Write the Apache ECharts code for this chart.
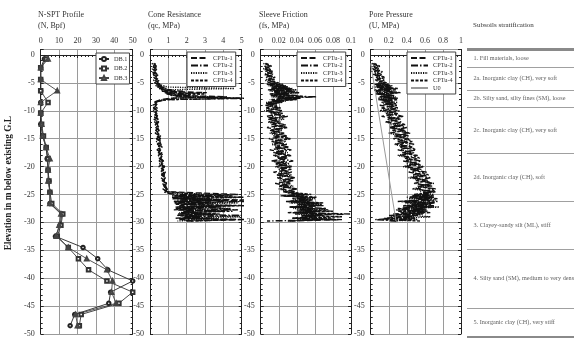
<!DOCTYPE html>
<html><head><meta charset="utf-8">
<script src="https://cdn.jsdelivr.net/npm/echarts/dist/echarts.min.js"></script>
<style>html,body{margin:0;padding:0;background:#fff}#c{width:574px;height:338px}</style>
</head><body><div id="c"></div>
<script>
// ---------- N-SPT profile ----------
const sptDepth = [-0.7,-2.3,-4.4,-6.4,-8.5,-10.4,-12.4,-14.5,-16.6,-18.6,-20.6,-22.6,-24.6,-26.6,-28.5,-30.5,-32.5,-34.5,-36.5,-38.5,-40.5,-42.5,-44.5,-46.5,-48.5];
const db1 = [2,0,0,0,0,0,0,1,3,3.5,4,4.5,5,5,11.5,10.5,8,23,31,36.5,50,38,37,18.5,16];
const db2 = [3,0,0,0,4,0,0.5,1.5,3,4,4,4.5,5,6,12,11,9,15,20.5,26,36,50,42.5,22,21];
const db3 = [4,0,0,9,0,0,0.5,1,3,5,4,4,5,5,11,10,8.5,15,25,36,39,38.5,41,19,20];

// ---------- CPTu profiles (shared depth sampling) ----------
const cptDepth = [
 -1.5,-2,-2.5,-3,-3.5,-4,-4.5,
 -5,-5.25,-5.5,-5.75,-6,-6.25,-6.5,-6.75,-7,-7.25,-7.5,-7.75,-8,-8.25,-8.5,-8.75,
 -9,-9.5,-10,-10.5,-11,-11.5,-12,-12.5,-13,-13.5,-14,-14.5,-15,-15.5,-16,-16.5,
 -17,-17.5,-18,-18.5,-19,-19.5,-20,-20.5,-21,-21.5,-22,-22.5,-23,-23.5,-24,-24.5,
 -24.75,-25,-25.25,-25.5,-25.75,-26,-26.25,-26.5,-26.75,-27,-27.25,-27.5,-27.75,-28,-28.25,-28.5,-28.75,-29,-29.25,-29.5,-29.75
];
// cone resistance qc (MPa)
const qc1 = [
 null,0.15,0.3,0.12,0.35,0.2,0.4,
 0.25,0.5,0.3,0.8,0.45,1.2,0.6,3.1,0.9,1.5,4.2,1.1,0.6,0.4,0.2,0.35,
 0.15,0.4,0.2,0.38,0.18,0.45,0.25,0.42,0.3,0.5,0.28,0.55,0.35,0.52,0.4,0.6,
 0.38,0.65,0.45,0.62,0.5,0.7,0.48,0.75,0.55,0.8,0.6,0.78,0.65,0.88,0.7,0.92,
 1.0,4.8,1.3,2.5,1.2,5.3,1.5,3.6,1.4,4.6,1.6,2.8,1.3,4.1,1.7,3.2,1.5,2.6,1.4,5.2,2.0];
const qc2 = [
 0.2,0.35,0.15,0.3,0.18,0.4,0.25,
 0.45,0.3,0.6,0.4,0.9,0.55,1.8,0.8,1.2,2.2,1.4,5.4,1.0,0.5,0.3,0.2,
 0.35,0.18,0.42,0.22,0.4,0.2,0.48,0.28,0.52,0.3,0.5,0.36,0.58,0.34,0.62,0.42,
 0.6,0.45,0.68,0.5,0.72,0.52,0.78,0.58,0.8,0.62,0.85,0.66,0.9,0.7,0.95,0.75,
 0.9,1.4,4.5,1.2,3.3,1.5,5.2,1.3,2.2,1.6,3.9,1.4,4.8,1.8,2.7,1.5,5.0,1.9,3.5,1.6,2.4];
const qc3 = [
 0.1,0.25,0.12,0.3,0.15,0.35,0.2,
 0.3,0.45,0.35,1.0,4.6,0.9,1.4,0.8,2.0,1.1,3.4,1.3,0.7,0.45,0.25,0.3,
 0.25,0.32,0.15,0.35,0.28,0.22,0.4,0.3,0.45,0.35,0.42,0.5,0.38,0.55,0.45,0.5,
 0.58,0.48,0.62,0.55,0.66,0.6,0.7,0.62,0.74,0.68,0.8,0.72,0.84,0.76,0.88,0.8,
 1.1,3.9,1.4,5.1,1.6,2.9,1.3,4.8,1.8,3.4,1.5,4.4,1.9,2.5,1.6,3.8,2.1,4.9,1.7,3.0,1.5];
const qc4 = [
 0.3,0.18,0.4,0.22,0.45,0.28,0.5,
 0.35,0.6,0.45,0.7,0.5,0.9,0.65,1.6,3.0,1.3,1.8,4.9,0.9,0.5,0.3,0.42,
 0.3,0.22,0.36,0.26,0.44,0.32,0.38,0.46,0.34,0.48,0.42,0.58,0.44,0.6,0.5,0.66,
 0.52,0.58,0.7,0.56,0.74,0.62,0.8,0.66,0.84,0.7,0.82,0.76,0.9,0.8,0.96,0.85,
 0.95,2.7,1.2,5.0,1.5,4.1,1.3,3.0,1.7,5.2,1.4,2.4,1.6,4.5,1.9,3.6,1.5,2.8,1.8,4.7,2.2];
// sleeve friction fs (MPa)
const fs1 = [
 null,0.004,0.012,0.005,0.014,0.006,0.016,
 0.008,0.022,0.01,0.03,0.012,0.035,0.015,0.028,0.01,0.04,0.018,0.045,0.012,0.025,0.008,0.018,
 0.005,0.02,0.008,0.025,0.006,0.018,0.01,0.028,0.007,0.022,0.012,0.03,0.009,0.024,0.014,0.032,
 0.01,0.026,0.015,0.03,0.012,0.028,0.018,0.034,0.014,0.03,0.02,0.036,0.016,0.032,0.022,0.038,
 0.03,0.045,0.022,0.05,0.035,0.055,0.028,0.06,0.04,0.07,0.032,0.055,0.04,0.065,0.03,0.08,0.045,0.06,0.035,0.09,0.03];
const fs2 = [
 0.005,0.01,0.004,0.012,0.006,0.015,0.008,
 0.018,0.006,0.026,0.012,0.032,0.008,0.038,0.015,0.03,0.01,0.062,0.02,0.036,0.012,0.022,0.006,
 0.018,0.006,0.024,0.01,0.03,0.008,0.022,0.012,0.028,0.01,0.026,0.014,0.032,0.012,0.029,0.016,
 0.034,0.014,0.03,0.018,0.036,0.016,0.032,0.02,0.035,0.018,0.038,0.022,0.034,0.02,0.04,0.025,
 0.035,0.05,0.025,0.058,0.04,0.048,0.03,0.066,0.042,0.052,0.032,0.073,0.045,0.058,0.04,0.099,0.048,0.062,0.035,0.084,0.007];
const fs3 = [
 0.003,0.008,0.003,0.01,0.004,0.012,0.005,
 0.01,0.025,0.008,0.03,0.012,0.04,0.01,0.043,0.015,0.035,0.012,0.04,0.01,0.028,0.006,0.015,
 0.01,0.015,0.004,0.02,0.012,0.026,0.008,0.018,0.014,0.024,0.01,0.02,0.016,0.028,0.012,0.022,
 0.018,0.03,0.014,0.024,0.02,0.032,0.016,0.026,0.022,0.034,0.018,0.028,0.024,0.036,0.02,0.03,
 0.038,0.052,0.03,0.047,0.06,0.036,0.055,0.032,0.068,0.04,0.058,0.036,0.075,0.042,0.06,0.038,0.07,0.045,0.078,0.04,0.04];
const fs4 = [
 0.006,0.012,0.005,0.014,0.007,0.016,0.008,
 0.02,0.01,0.028,0.014,0.035,0.01,0.03,0.042,0.012,0.033,0.05,0.018,0.04,0.012,0.024,0.008,
 0.012,0.022,0.007,0.016,0.026,0.009,0.02,0.014,0.03,0.011,0.024,0.017,0.033,0.013,0.026,0.019,
 0.028,0.015,0.034,0.021,0.027,0.017,0.035,0.023,0.03,0.019,0.037,0.025,0.032,0.021,0.04,0.027,
 0.042,0.056,0.036,0.062,0.045,0.058,0.034,0.07,0.048,0.064,0.038,0.06,0.045,0.08,0.04,0.066,0.048,0.09,0.042,0.062,0.03];
// pore pressure u (MPa)
const u1 = [
 null,0.03,0.1,0.04,0.12,0.06,0.15,
 0.08,0.2,0.05,0.24,0.1,0.28,0.04,0.18,0.06,0.26,0.1,0.3,0.08,0.22,0.12,0.28,
 0.1,0.28,0.14,0.3,0.12,0.33,0.18,0.36,0.2,0.38,0.22,0.42,0.25,0.4,0.28,0.46,
 0.3,0.48,0.33,0.5,0.36,0.54,0.38,0.56,0.42,0.6,0.45,0.64,0.48,0.68,0.5,0.7,
 0.58,0.65,0.45,0.7,0.5,0.62,0.35,0.72,0.55,0.4,0.68,0.3,0.6,0.45,0.66,0.25,0.5,0.38,0.15,0.45,0.2];
const u2 = [
 0.02,0.08,0.02,0.1,0.04,0.14,0.06,
 0.16,0.04,0.2,0.08,0.25,0.03,0.15,0.3,0.08,0.22,0.1,0.28,0.12,0.2,0.26,0.14,
 0.3,0.12,0.32,0.16,0.36,0.18,0.34,0.22,0.4,0.24,0.44,0.26,0.42,0.3,0.48,0.32,
 0.5,0.35,0.52,0.38,0.56,0.4,0.58,0.44,0.62,0.46,0.66,0.5,0.7,0.52,0.72,0.55,
 0.62,0.48,0.68,0.4,0.74,0.52,0.3,0.66,0.45,0.7,0.35,0.6,0.28,0.64,0.42,0.55,0.2,0.48,0.32,0.05,0.3];
const u3 = [
 0.01,0.05,0.02,0.08,0.03,0.1,0.05,
 0.12,0.06,0.18,0.02,0.22,0.1,0.26,0.06,0.2,0.12,0.28,0.08,0.24,0.14,0.3,0.16,
 0.2,0.24,0.1,0.28,0.2,0.32,0.16,0.3,0.26,0.36,0.2,0.34,0.3,0.4,0.26,0.38,
 0.34,0.45,0.3,0.44,0.4,0.5,0.36,0.52,0.46,0.55,0.42,0.6,0.5,0.62,0.46,0.66,
 0.6,0.7,0.5,0.64,0.42,0.72,0.55,0.38,0.67,0.48,0.76,0.4,0.62,0.5,0.33,0.58,0.44,0.66,0.36,0.52,0.25];
const u4 = [
 0.04,0.1,0.05,0.13,0.06,0.16,0.08,
 0.18,0.1,0.24,0.06,0.3,0.12,0.2,0.33,0.08,0.26,0.14,0.22,0.3,0.16,0.25,0.18,
 0.16,0.3,0.2,0.26,0.34,0.22,0.3,0.38,0.24,0.36,0.42,0.28,0.4,0.46,0.32,0.44,
 0.5,0.36,0.48,0.54,0.4,0.52,0.58,0.46,0.56,0.64,0.5,0.6,0.68,0.54,0.66,0.72,
 0.62,0.52,0.7,0.46,0.66,0.58,0.74,0.44,0.63,0.36,0.7,0.5,0.58,0.3,0.6,0.4,0.52,0.22,0.5,0.13,0.55];
// hydrostatic pore pressure U0
const u0Depth = [-1.5, -29.75];
const u0 = [0, 0.28];

// ---------- stratification ----------
const layerBounds = [1,-2.1,-6.2,-9.2,-17.4,-26,-34.4,-44.9,-50];
const layerNames = [
 '1. Fill materials, loose',
 '2a. Inorganic clay (CH), very soft',
 '2b. Silty sand, silty fines (SM), loose',
 '2c. Inorganic clay (CH), very soft',
 '2d. Inorganic clay (CH), soft',
 '3. Clayey-sandy silt (ML), stiff',
 '4. Silty sand (SM), medium to very dense',
 '5. Inorganic clay (CH), very stiff'
];
const panelTitles = ['N-SPT Profile\n(N, Bpf)','Cone Resistance\n(qc, MPa)','Sleeve Friction\n(fs, MPa)','Pore Pressure\n(U, MPa)'];
const xMaxes = [50, 5, 0.1, 1];
const xIntervals = [10, 1, 0.02, 0.2];
const cptNames = ['CPTu-1','CPTu-2','CPTu-3','CPTu-4'];
const yMin = -50, yMax = 1, yInterval = 5;

// ---------- build ----------
const FONT = 'Liberation Serif';
const gridTop = 49.4, gridH = 287.6;
const grids = [
 {left:40.7, top:gridTop, width:92, height:gridH},
 {left:150, top:gridTop, width:91.7, height:gridH},
 {left:260.7, top:gridTop, width:90.3, height:gridH},
 {left:370.7, top:gridTop, width:90.3, height:gridH},
 {left:467, top:gridTop, width:107, height:gridH}
];
const axisCol = '#222', gridCol = '#9a9a9a';
const xAxes = [], yAxes = [];
for (let i = 0; i < 4; i++) {
  xAxes.push({gridIndex:i, type:'value', position:'top', min:0, max:xMaxes[i], interval:xIntervals[i],
    axisLine:{show:true, lineStyle:{color:axisCol, width:1.2}},
    axisTick:{show:true, inside:true, length:3, lineStyle:{color:axisCol}},
    minorTick:{show:true, splitNumber:5, length:2, lineStyle:{color:axisCol}},
    splitLine:{show:true, lineStyle:{color:gridCol, width:1}},
    axisLabel:{fontFamily:FONT, fontSize:8, color:'#333', margin:4}});
}
xAxes.push({gridIndex:4, type:'value', min:0, max:1, show:false});
for (let i = 0; i < 4; i++) {
  yAxes.push({gridIndex:i, type:'value', min:yMin, max:yMax, interval:yInterval,
    name: i === 0 ? 'Elevation in m below existing G.L' : '',
    nameLocation:'middle', nameGap:28,
    nameTextStyle:{fontFamily:FONT, fontSize:9.3, fontWeight:'bold', color:'#222', padding:[0,0,0,17]},
    axisLine:{show:true, onZero:false, lineStyle:{color:axisCol, width:1}},
    axisTick:{show:true, inside:true, length:3, lineStyle:{color:axisCol}},
    minorTick:{show:true, splitNumber:5, length:2, lineStyle:{color:axisCol}},
    splitLine:{show:true, lineStyle:{color:gridCol, width:1}},
    axisLabel:{fontFamily:FONT, fontSize:8, color:'#333', margin:6, showMaxLabel:false}});
}
for (let i = 0; i < 4; i++) {
  yAxes.push({gridIndex:i, type:'value', position:'right', min:yMin, max:yMax, interval:yInterval,
    axisLine:{show:true, onZero:false, lineStyle:{color:axisCol, width:1}},
    axisTick:{show:true, inside:true, length:3, lineStyle:{color:axisCol}},
    minorTick:{show:true, splitNumber:5, length:2, lineStyle:{color:axisCol}},
    splitLine:{show:false}, axisLabel:{show:false}});
}
yAxes.push({gridIndex:4, type:'value', min:yMin, max:yMax, show:false});
const TABLE_Y = yAxes.length - 1;

function pairs(xs, ys) {
  const out = [];
  xs.forEach((v, k) => { if (v != null) out.push([v, ys[k]]); });
  return out;
}
const series = [];
const sptSets = [[db1,'DB.1','emptyCircle','#222'],[db2,'DB.2','emptyRect','#333'],[db3,'DB.3','emptyTriangle','#444']];
sptSets.forEach(s => series.push({type:'line', name:s[1], xAxisIndex:0, yAxisIndex:0,
  data:pairs(s[0], sptDepth), symbol:s[2], symbolSize:3.5, showSymbol:true,
  lineStyle:{color:s[3], width:0.9}, itemStyle:{color:s[3], borderColor:s[3], borderWidth:0.9}, z:3}));

const cptStyles = [[6,2.5],[7,2,1.5,2],[1.2,1.2],[3,1.5]];
const cptSets = [[qc1,qc2,qc3,qc4],[fs1,fs2,fs3,fs4],[u1,u2,u3,u4]];
cptSets.forEach((set, p) => {
  set.forEach((vals, k) => series.push({type:'line', name:cptNames[k], xAxisIndex:p+1, yAxisIndex:p+1,
    data:pairs(vals, cptDepth), symbol:'none', clip:true,
    lineStyle:{color:'#111', width:1.4, type:cptStyles[k]}, itemStyle:{color:'rgba(0,0,0,0)'}}));
});
series.push({type:'line', name:'U0', xAxisIndex:3, yAxisIndex:3, data:pairs(u0, u0Depth), symbol:'none',
  lineStyle:{color:'#999', width:1}, itemStyle:{color:'rgba(0,0,0,0)'}});

// stratification table
const last = layerBounds.length - 1;
series.push({type:'scatter', xAxisIndex:4, yAxisIndex:TABLE_Y, symbolSize:1, itemStyle:{color:'rgba(0,0,0,0)'},
  silent:true, clip:false,
  data: layerNames.map((n, i) => ({name:n, value:[0, (layerBounds[i] + layerBounds[i+1]) / 2]})),
  label:{show:true, position:'right', distance:6, formatter:'{b}', fontFamily:FONT, fontSize:6.2, color:'#333'},
  markLine:{silent:true, symbol:'none', label:{show:false}, animation:false,
    data: layerBounds.map((b, i) => ({yAxis:b, lineStyle:{type:'solid',
      color:(i === 0 || i === last) ? '#8a8a8a' : '#a0a0a0', width:(i === 0 || i === last) ? 3 : 1.2}}))}
});

const titleStyle = {fontFamily:FONT, fontSize:8, fontWeight:'normal', color:'#333', lineHeight:10.5};
const titleLefts = [38, 148, 259, 369];
const titles = panelTitles.map((t, i) => ({text:t, left:titleLefts[i], top:10, padding:0, textStyle:titleStyle}));
titles.push({text:'Subsoils stratification', left:473, top:22, padding:0,
  textStyle:{fontFamily:FONT, fontSize:7, fontWeight:'normal', color:'#333'}});

const legendBase = {orient:'vertical', selectedMode:false, itemWidth:17, itemHeight:5, itemGap:1.5,
  padding:[3,3,3,3], borderColor:'#444', borderWidth:1, backgroundColor:'#fff',
  textStyle:{fontFamily:FONT, fontSize:6.3, color:'#333'}, z:10};
const legends = [
  Object.assign({}, legendBase, {data:['DB.1','DB.2','DB.3'], left:96, top:53, itemGap:3.5, itemWidth:10, padding:[3,2,3,2]}),
  Object.assign({}, legendBase, {data:cptNames, left:187, top:52}),
  Object.assign({}, legendBase, {data:cptNames, left:297, top:52}),
  Object.assign({}, legendBase, {data:cptNames.concat(['U0']), left:407, top:52})
];

const chart = echarts.init(document.getElementById('c'), null, {renderer:'canvas'});
chart.setOption({animation:false, backgroundColor:'#fff', title:titles, legend:legends,
  grid:grids, xAxis:xAxes, yAxis:yAxes, series:series});
</script></body></html>
